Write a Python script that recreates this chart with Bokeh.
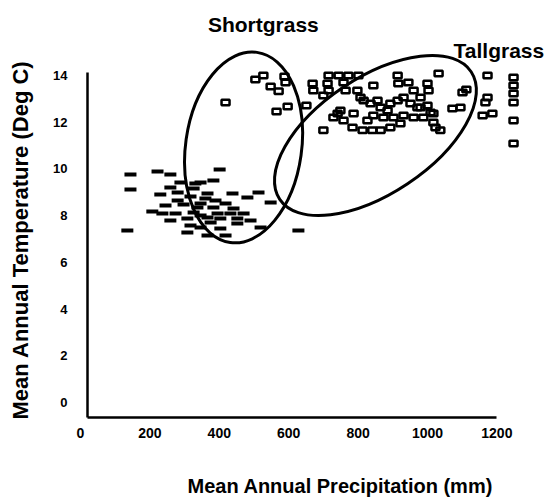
from bokeh.plotting import figure
from bokeh.models import Range1d, LinearAxis, FixedTicker, Label, Title
from bokeh.embed import file_html
from bokeh.resources import INLINE

# ---- data ----
# Sites shown as dashes (cool / dry)
dash_precip = [144, 144, 135, 222, 259, 259, 230, 280, 331, 326, 366, 317, 280, 346,
               207, 236, 274, 259, 308, 326, 346, 308, 346, 375, 395, 383, 401, 346,
               438, 481, 513, 548, 441, 366, 403, 452, 452, 403, 519, 628, 366, 418,
               297, 337, 360, 389, 418, 432, 470, 288, 383, 317, 490, 245]
dash_temp = [9.76, 9.12, 7.36, 9.89, 9.76, 9.20, 8.90, 8.99, 9.38, 9.16, 8.95, 8.82, 8.65, 8.52,
             8.18, 8.09, 8.09, 7.79, 7.88, 8.13, 8.01, 7.28, 7.49, 7.71, 8.09, 8.35, 9.97, 9.42,
             8.95, 8.78, 8.99, 8.56, 8.30, 7.92, 7.88, 7.88, 7.66, 7.45, 7.49, 7.36, 7.15, 7.15,
             8.48, 8.35, 8.73, 8.65, 8.52, 8.09, 8.09, 9.42, 9.50, 7.58, 7.79, 8.43]

# Sites shown as open squares (warm)
square_precip = [418, 504, 527, 548, 571, 588, 591, 597, 565,
                 651, 669, 671, 715, 744, 772, 801, 712, 715, 700, 758, 764, 798, 807, 844,
                 914, 916, 945, 960, 1000, 1032, 1101, 1112, 1173, 1173, 1167, 1187, 1159,
                 1248, 1248, 1248, 1248, 1248, 1248, 1072, 1095, 1023, 1037,
                 700, 729, 749, 758, 784, 813, 841, 865, 893, 922,
                 816, 836, 856, 865, 885, 893, 914, 931, 951, 971, 1000,
                 1017, 1017, 988, 960, 931, 902, 873, 844, 827, 787, 741, 980, 1003, 980, 1009]
square_temp = [12.84, 13.83, 14.00, 13.53, 13.32, 13.96, 13.70, 12.67, 12.46,
               12.72, 13.66, 13.36, 14.00, 14.00, 14.00, 14.00, 13.66, 13.36, 13.14, 13.70, 13.36, 13.36, 13.06, 13.57,
               14.00, 13.66, 13.70, 13.36, 13.66, 14.09, 13.27, 13.40, 14.00, 13.06, 12.84, 12.37, 12.29,
               13.91, 13.57, 13.23, 12.84, 12.07, 11.09, 12.59, 12.63, 11.77, 11.65,
               11.65, 12.20, 12.50, 12.07, 11.77, 11.65, 11.65, 11.65, 11.77, 11.94,
               12.93, 12.80, 12.93, 12.63, 12.50, 12.80, 12.93, 13.06, 12.80, 12.63, 12.72,
               12.37, 11.99, 12.20, 12.20, 12.29, 12.20, 12.20, 12.29, 12.07, 12.37, 12.37, 13.06, 13.36, 12.63, 12.42]

# Grassland envelopes (centre in data units)
zone_names = ["Shortgrass", "Tallgrass"]
zone_precip = [470, 850]
zone_temp = [10.92, 11.43]

x_ticks = [0, 200, 400, 600, 800, 1000, 1200]
y_ticks = [0, 2, 4, 6, 8, 10, 12, 14]
x_title = "Mean Annual Precipitation (mm)"
y_title = "Mean Annual Temperature (Deg C)"

# ---- figure ----
FONT = "Liberation Sans"
Y0 = -0.642          # where the axes cross
X0 = 20
p = figure(width=546, height=497, output_backend="svg", toolbar_location=None,
           x_range=Range1d(0, 1343), y_range=Range1d(-0.728, 17.21),
           x_axis_type=None, y_axis_type=None,
           min_border_left=80, min_border_right=0, min_border_top=0, min_border_bottom=78)
p.outline_line_color = None
p.background_fill_color = "white"
p.border_fill_color = "white"


def style(ax, fs, so):
    ax.axis_line_width = 2.5
    ax.axis_line_color = "black"
    ax.major_tick_out = 0
    ax.major_tick_in = 0
    ax.minor_tick_out = 0
    ax.minor_tick_in = 0
    ax.major_label_standoff = so
    ax.major_label_text_font = FONT
    ax.major_label_text_font_style = "bold"
    ax.major_label_text_font_size = fs
    ax.major_label_text_color = "black"


def spacer(px, at):
    # an axis whose single tick is invisible: it draws nothing, only reserves room
    ax = LinearAxis(ticker=FixedTicker(ticks=[at]), major_label_overrides={at: ""})
    style(ax, "1px", 0)
    ax.axis_line_color = None
    ax.major_tick_line_color = None
    ax.major_label_text_color = None
    ax.major_tick_out = px
    return ax


# labelled x axis (its own line hidden)
xaxis = LinearAxis(ticker=FixedTicker(ticks=x_ticks), bounds=(0, 1200))
style(xaxis, "14px", 8)
xaxis.axis_line_color = None
p.add_layout(xaxis, "below")

# x axis line where the reference draws it
xline = LinearAxis(ticker=FixedTicker(ticks=[]), bounds=(X0, 1200), fixed_location=Y0)
style(xline, "1px", 0)
xline.major_label_text_color = None
p.add_layout(xline, "below")
p.add_layout(spacer(32, 600), "below")

# labelled y axis at the frame edge (its own line hidden)
yaxis = LinearAxis(ticker=FixedTicker(ticks=y_ticks), bounds=(Y0, 14.13))
style(yaxis, "13px", 13)
yaxis.axis_line_color = None
p.add_layout(yaxis, "left")

# y axis line where the reference draws it
yline = LinearAxis(ticker=FixedTicker(ticks=[]), bounds=(Y0, 14.13), fixed_location=X0)
style(yline, "1px", 0)
yline.major_label_text_color = None
p.add_layout(yline, "left")
p.add_layout(spacer(18, 7), "left")

p.add_layout(Title(text=y_title, align="left", offset=0, text_font=FONT, text_font_style="bold",
                   text_font_size="22px", text_color="black", standoff=0), "left")
p.add_layout(Title(text=x_title, align="left", offset=107, text_font=FONT, text_font_style="bold",
                   text_font_size="20px", text_color="black", standoff=0), "below")

# envelopes
p.ellipse(x=zone_precip, y=zone_temp, width=[116, 230], height=[192, 116], angle=[-0.14, 0.588],
          width_units="screen", height_units="screen",
          fill_color=None, line_color="black", line_width=3)

# dashes
p.rect(x=dash_precip, y=dash_temp, width=12, height=4, width_units="screen", height_units="screen",
       fill_color="black", line_color=None)

# squares
p.rect(x=square_precip, y=square_temp, width=8, height=5.5, width_units="screen", height_units="screen",
       fill_color=None, line_color="black", line_width=2.5)

# envelope names
p.add_layout(Label(x=527, y=16.2, text=zone_names[0], text_align="center", text_baseline="alphabetic",
                   text_font=FONT, text_font_style="bold", text_font_size="21px", text_color="black"))
p.add_layout(Label(x=1075, y=15.07, text=zone_names[1], text_align="left", text_baseline="alphabetic",
                   text_font=FONT, text_font_style="bold", text_font_size="21px", text_color="black"))

open("out.html", "w").write(file_html(p, INLINE))
